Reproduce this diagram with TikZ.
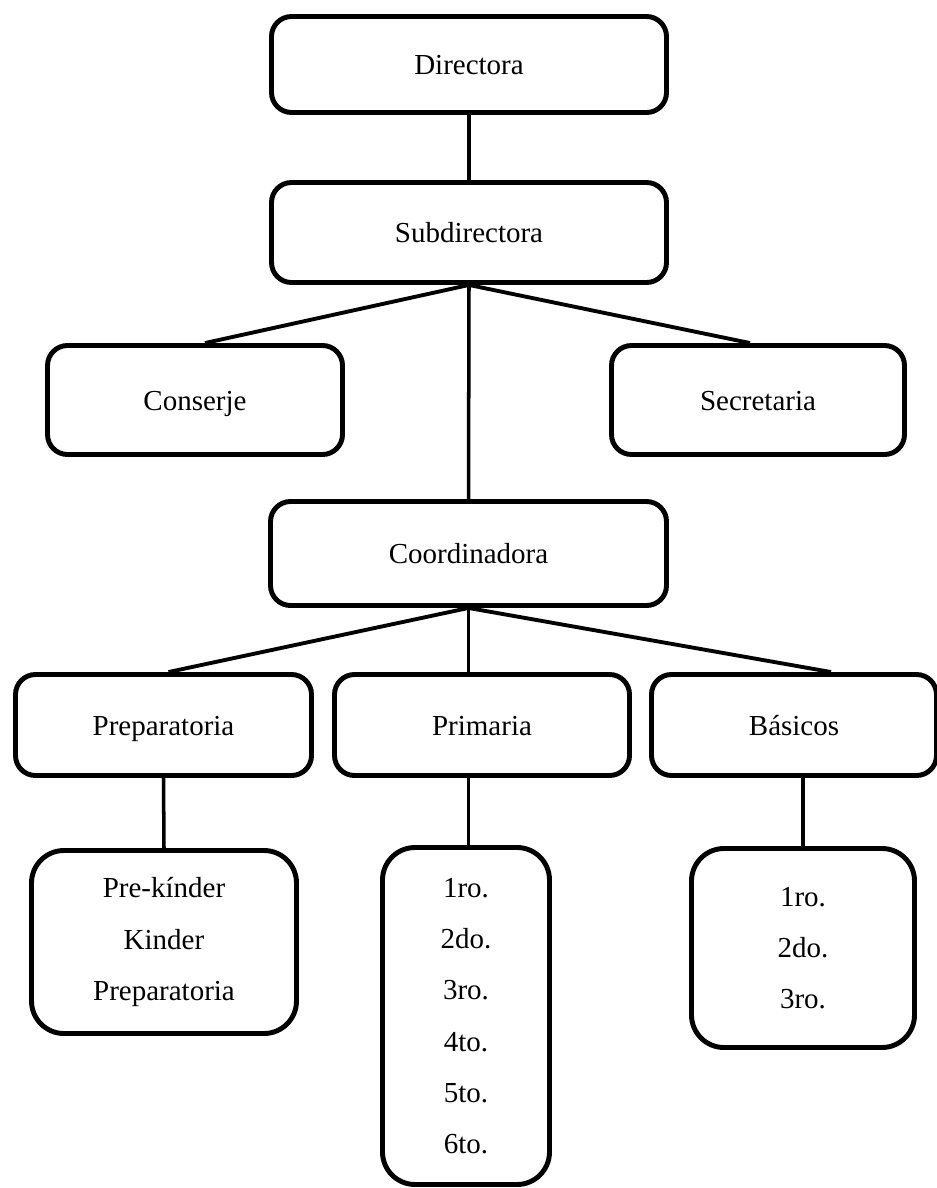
\documentclass[tikz,border=0pt]{standalone}
\usepackage{fontspec}
\setmainfont{Liberation Serif}
\usetikzlibrary{arrows,positioning}
\tikzset{orgbox/.style={draw=black,line width=2.8pt,rounded corners=0.4cm,align=center,inner sep=0pt,text height=0.5cm,text depth=0.1cm,font=\fontsize{16.5}{29.2}\selectfont}}
\tikzset{listbox/.style={draw=black,line width=2.8pt,rounded corners=0.65cm,align=center,inner sep=0pt,font=\fontsize{16.5}{29.2}\selectfont}}

\begin{document}
\begin{tikzpicture}
% \draw[help lines] (0,-24) grid (19,0);
\useasboundingbox (0,0) rectangle (18.74,-23.76);
\node (dir) [orgbox,minimum width=7.9cm,minimum height=1.92cm] at (9.38,-1.29) {Directora};
\node (sub) [orgbox,minimum width=7.9cm,minimum height=2cm] at (9.38,-4.65) {Subdirectora};
\node (cons) [orgbox,minimum width=5.9cm,minimum height=2.18cm] at (3.9,-8) {Conserje};
\node (sec) [orgbox,minimum width=5.86cm,minimum height=2.18cm] at (15.16,-8) {Secretaria};
\node (coord) [orgbox,minimum width=7.92cm,minimum height=2.08cm] at (9.37,-11.07) {Coordinadora};
%
\node (prep) [orgbox,minimum width=5.92cm,minimum height=2.02cm] at (3.27,-14.5) {Preparatoria};
\node (prim) [orgbox,minimum width=5.9cm,minimum height=2.02cm] at (9.64,-14.5) {Primaria};
\node (bas) [orgbox,minimum width=5.7cm,minimum height=2.02cm] at (15.88,-14.5) {Básicos};
%
\node (preplist) [listbox,minimum width=5.3cm,minimum height=3.66cm] at (3.28,-18.84) {Pre-kínder\\Kinder\\Preparatoria};
\node (primlist) [listbox,minimum width=3.34cm,minimum height=6.74cm] at (9.32,-20.32) {1ro.\\2do.\\3ro.\\4to.\\5to.\\6to.};
\node (baslist) [listbox,minimum width=4.46cm,minimum height=3.98cm] at (16.06,-18.96) {1ro.\\2do.\\3ro.};
%
\path[line width=2pt](dir) edge (sub);
\path[line width=2.2pt](sub.south) edge ([xshift=0.2cm]cons.north);
\path[line width=2.2pt](sub.south) edge ([xshift=-0.16cm]sec.north);
\path[line width=2pt](sub.south) edge (coord.north);
\path[line width=2.2pt](coord.south) edge ([xshift=0.1cm]prep.north);
\path[line width=2pt](coord.south) edge (coord.south |- prim.north);
\path[line width=2.2pt](coord.south) edge ([xshift=0.74cm]bas.north);
%
\path[line width=2pt](prep.south) edge (preplist.north);
\path[line width=2pt](prim.south -| coord.south) edge (primlist.north -| coord.south);
\path[line width=2pt](baslist.north |- bas.south) edge (baslist.north);
\end{tikzpicture}
\end{document}
